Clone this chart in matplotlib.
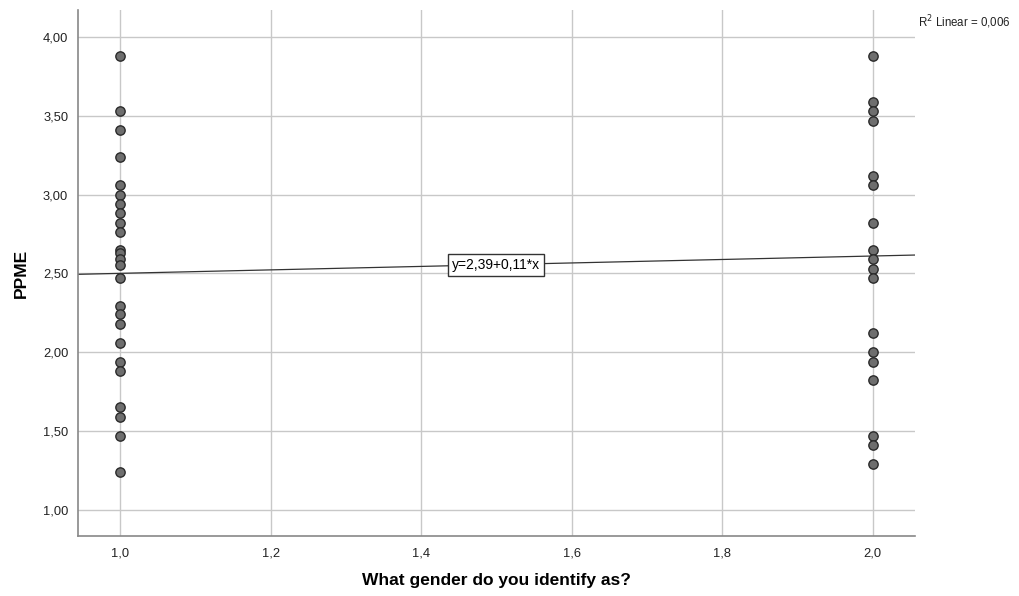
import matplotlib
matplotlib.use("Agg")
import matplotlib.pyplot as plt
from matplotlib.ticker import FuncFormatter, FixedLocator

plt.rcParams['font.family'] = ['Liberation Sans', 'DejaVu Sans']

# Scores for respondents identifying as gender 1 and gender 2
gender_1 = [3.88, 3.53, 3.41, 3.24, 3.06, 3.00, 2.94, 2.88, 2.82, 2.76, 2.65, 2.63,
            2.59, 2.55, 2.47, 2.29, 2.24, 2.18, 2.06, 1.94, 1.88, 1.65, 1.59, 1.47, 1.24]
gender_2 = [3.88, 3.59, 3.53, 3.47, 3.12, 3.06, 2.82, 2.65, 2.59, 2.53, 2.47,
            2.12, 2.00, 1.94, 1.82, 1.47, 1.41, 1.29]

# Fitted line y = intercept + slope * x
intercept = 2.39
slope = 0.11
r_squared = 0.006

x_ticks = [1.0, 1.2, 1.4, 1.6, 1.8, 2.0]
y_ticks = [1.0, 1.5, 2.0, 2.5, 3.0, 3.5, 4.0]

fig = plt.figure(figsize=(10.2, 5.96), dpi=100)
ax = fig.add_axes([0.0765, 0.1, 0.821, 0.883])

xmin, xmax = 0.944, 2.057
ax.set_xlim(xmin, xmax)
ax.set_ylim(0.83, 4.171)

ax.xaxis.set_major_locator(FixedLocator(x_ticks))
ax.yaxis.set_major_locator(FixedLocator(y_ticks))
ax.xaxis.set_major_formatter(FuncFormatter(lambda v, p: f"{v:.1f}".replace('.', ',')))
ax.yaxis.set_major_formatter(FuncFormatter(lambda v, p: f"{v:.2f}".replace('.', ',')))

ax.grid(True, color='#c8c8c8', linewidth=1.0)
ax.set_axisbelow(True)
ax.tick_params(length=0, labelsize=9.3, colors='#222222')
ax.tick_params(axis='x', pad=8)
ax.tick_params(axis='y', pad=7)

for s in ['top', 'right']:
    ax.spines[s].set_visible(False)
for s in ['left', 'bottom']:
    ax.spines[s].set_color('#888888')
    ax.spines[s].set_linewidth(1.2)

# Fit line across the full x range
ax.plot([xmin, xmax], [intercept + slope * xmin, intercept + slope * xmax],
        color='#333333', linewidth=0.9, zorder=2)

ax.scatter([1.0] * len(gender_1), gender_1, s=45, facecolor='#6e6e6e',
           edgecolor='#2a2a2a', linewidth=1.0, zorder=3)
ax.scatter([2.0] * len(gender_2), gender_2, s=45, facecolor='#6e6e6e',
           edgecolor='#2a2a2a', linewidth=1.0, zorder=3)

label_x = 1.5
ax.text(label_x, intercept + slope * label_x,
        f"y={intercept:.2f}+{slope:.2f}*x".replace('.', ','),
        ha='center', va='center', fontsize=10, zorder=4,
        bbox=dict(boxstyle='square,pad=0.28', facecolor='white',
                  edgecolor='#333333', linewidth=1.0))

fig.text(0.9, 0.962, "R$^2$ Linear = " + f"{r_squared:.3f}".replace('.', ','),
         fontsize=8.3, ha='left', va='center', color='#222222')

ax.set_xlabel("What gender do you identify as?", fontsize=12.5, fontweight='bold',
              labelpad=10)
ax.set_ylabel("PPME", fontsize=12.5, fontweight='bold', labelpad=10)

fig.savefig("out.png", dpi=100)
